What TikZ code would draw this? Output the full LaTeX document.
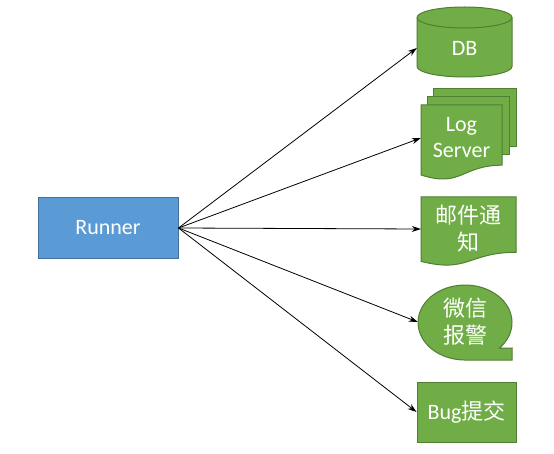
\documentclass[tikz,border=0pt]{standalone}
\usepackage{fontspec}
\setmainfont{Carlito}
\newfontfamily\cjk{Noto Sans CJK SC}
\usetikzlibrary{arrows.meta}
\definecolor{boxgreen}{HTML}{70AD47}
\definecolor{edgegreen}{HTML}{507E32}
\definecolor{boxblue}{HTML}{5B9BD5}
\definecolor{edgeblue}{HTML}{41719C}

\begin{document}
\begin{tikzpicture}[x=1pt, y=1pt,
  greenshape/.style={fill=boxgreen, draw=edgegreen, line width=1pt},
  label/.style={text=white, font=\fontsize{22}{26}\selectfont, align=center, inner sep=0pt},
  cjklabel/.style={text=white, font=\fontsize{22}{27}\selectfont\cjk, align=center, inner sep=0pt},
  link/.style={-{Stealth[length=9pt, width=6pt]}, line width=0.8pt}]
  \useasboundingbox (0,0) rectangle (554,453);
  % Runner
  \node[label, fill=boxblue, draw=edgeblue, line width=1pt,
    minimum width=140pt, minimum height=60pt] (runner) at (108,225) {Runner};
  % DB
  \draw[greenshape] (417,435.5) -- (417,386.5)
    arc[start angle=180, end angle=360, x radius=47.5, y radius=10.5]
    -- (512,435.5) arc[start angle=0, end angle=180, x radius=47.5, y radius=10.5] -- cycle;
  \draw[edgegreen, line width=1pt] (417,435.5)
    arc[start angle=180, end angle=360, x radius=47.5, y radius=10.5];
  \node[label, minimum width=95pt] (db) at (464.5,405) {DB};
  % Log Server
  \draw[greenshape] (433,306) rectangle (516,364);
  \draw[greenshape] (427,298) rectangle (509,356);
  \draw[greenshape] (421,348) -- (502,348) -- (502,287.8)
    .. controls (461.5,287.8) and (461.5,265) .. (421,278) -- cycle;
  \node[label, minimum width=81pt] (log) at (461.5,315) {Log\\Server};
  % mail
  \draw[greenshape] (421,256) -- (516,256) -- (516,200.7)
    .. controls (468.5,200.7) and (468.5,179.6) .. (421,191.6) -- cycle;
  \node[cjklabel, minimum width=95pt] (mail) at (468.5,224) {邮件通\\知};
  % wechat
  \draw[greenshape] (499.4,104.9)
    arc[start angle=-43, end angle=270, x radius=47, y radius=37.5]
    -- (512,93) -- (512,105) -- cycle;
  \node[cjklabel, minimum width=94pt] (wechat) at (465,131) {微信\\报警};
  % Bug
  \node[label, greenshape, minimum width=99pt, minimum height=60pt] (bug) at (466.5,41) {Bug{\cjk 提交}};
  % links
  \draw[link] (runner.east) -- (db.west);
  \draw[link] (runner.east) -- (log.west);
  \draw[link] (runner.east) -- (mail.west);
  \draw[link] (runner.east) -- (wechat.west);
  \draw[link] (runner.east) -- (bug.west);
\end{tikzpicture}
\end{document}
